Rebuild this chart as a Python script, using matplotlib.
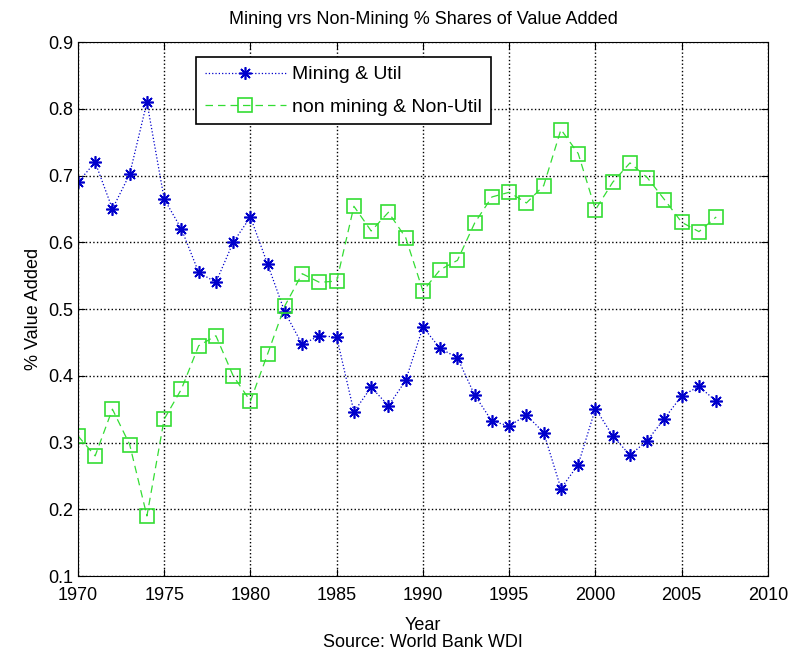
import numpy as np
import matplotlib.pyplot as plt

plt.rcParams['font.family'] = ['Liberation Sans', 'DejaVu Sans']

# data
years = np.arange(1970, 2008)
mining = [0.690, 0.720, 0.650, 0.702, 0.810, 0.665, 0.620, 0.555, 0.540, 0.600,
          0.638, 0.567, 0.495, 0.447, 0.460, 0.458, 0.346, 0.383, 0.355, 0.393,
          0.473, 0.441, 0.427, 0.371, 0.332, 0.325, 0.341, 0.315, 0.231, 0.267,
          0.351, 0.310, 0.281, 0.303, 0.336, 0.370, 0.384, 0.362]
non_mining = [0.310, 0.280, 0.350, 0.297, 0.190, 0.335, 0.380, 0.445, 0.460, 0.400,
              0.362, 0.433, 0.505, 0.553, 0.540, 0.542, 0.654, 0.617, 0.645, 0.607,
              0.527, 0.559, 0.573, 0.629, 0.668, 0.675, 0.659, 0.685, 0.769, 0.733,
              0.649, 0.690, 0.719, 0.697, 0.664, 0.630, 0.616, 0.638]

fig = plt.figure(figsize=(7.95, 6.58), dpi=100)
ax = fig.add_axes([0.098, 0.1246, 0.868, 0.8114])

ax.plot(years, mining, ':', color='#0000cc', linewidth=0.9, marker=(8, 2, 0),
        markersize=9, markeredgewidth=1.2, label='Mining & Util')
ax.plot(years, non_mining, '--', color='#33dd33', linewidth=0.9, marker='s',
        markersize=10, markerfacecolor='none', markeredgewidth=1.2, dashes=(6, 4),
        label='non mining & Non-Util')

ax.set_xlim(1970, 2010)
ax.set_ylim(0.1, 0.9)
ax.set_xticks(np.arange(1970, 2011, 5))
ax.set_yticks(np.arange(0.1, 0.91, 0.1))
ax.set_yticklabels(['0.1', '0.2', '0.3', '0.4', '0.5', '0.6', '0.7', '0.8', '0.9'])
ax.tick_params(direction='in', top=True, right=True, labelsize=13, length=5)
ax.tick_params(axis='x', pad=8)
ax.grid(True, linestyle=':', color='black', linewidth=1)

ax.set_title('Mining vrs Non-Mining % Shares of Value Added', fontsize=13, pad=13)
ax.set_xlabel('Year\nSource: World Bank WDI', fontsize=13, linespacing=1.0,
              labelpad=9)
ax.set_ylabel('% Value Added', fontsize=13)

leg = ax.legend(loc='upper left', bbox_to_anchor=(0.171, 0.972), fontsize=14,
                fancybox=False, edgecolor='black', framealpha=1,
                handlelength=4.2, handletextpad=0.3, labelspacing=0.75,
                borderpad=0.45, borderaxespad=0)
leg.get_frame().set_linewidth(1.2)

plt.savefig('out.png')
